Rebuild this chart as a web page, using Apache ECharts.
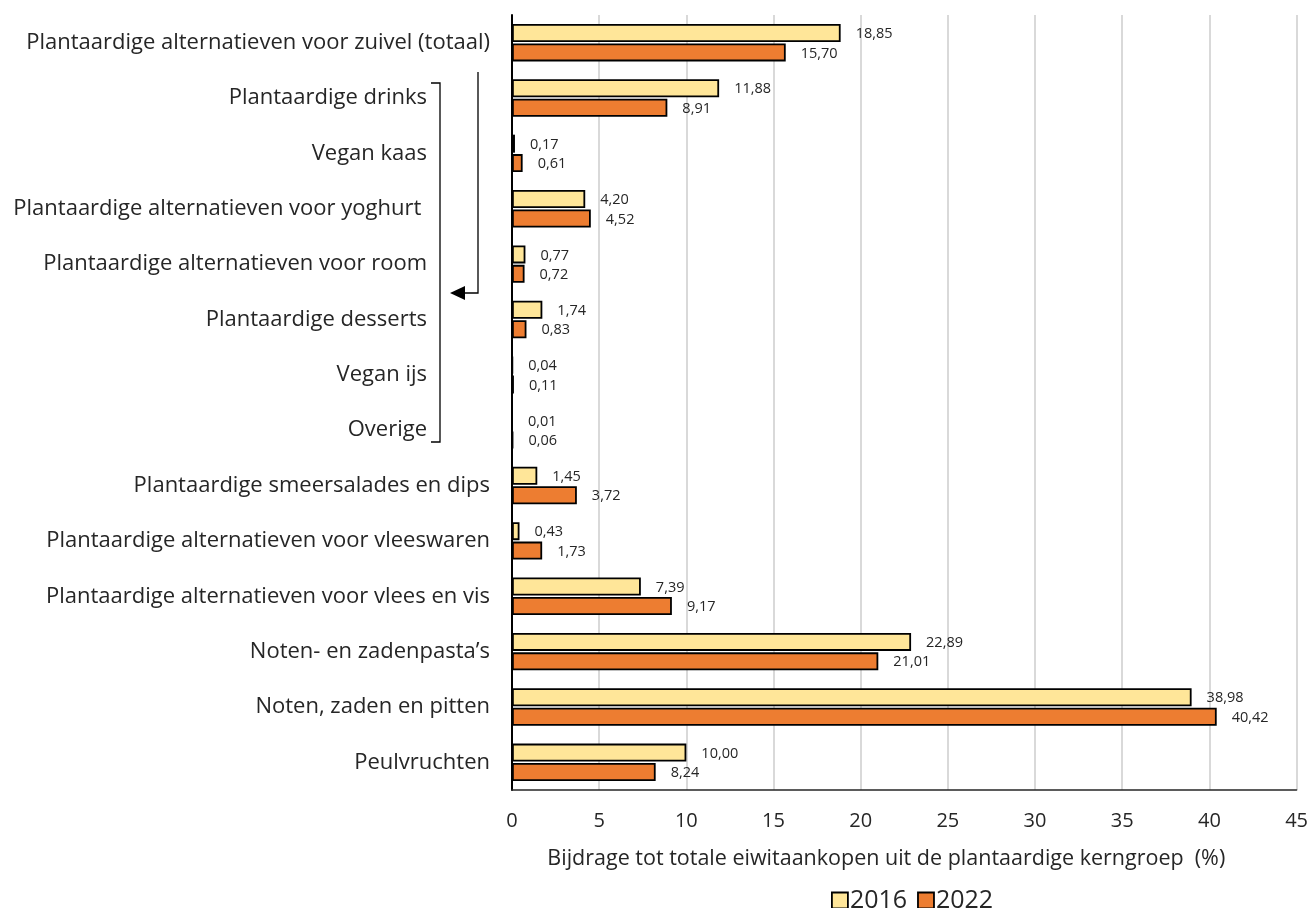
<!DOCTYPE html>
<html>
<head>
<meta charset="utf-8">
<script src="https://cdn.jsdelivr.net/npm/echarts@6/dist/echarts.min.js"></script>
<style>
  html, body { margin: 0; padding: 0; background: #fff; }
  #chart { width: 1311px; height: 908px; }
</style>
</head>
<body>
<div id="chart"></div>
<script>
// Productgroepen (van boven naar onder)
const categories = [
  'Plantaardige alternatieven voor zuivel (totaal)',
  'Plantaardige drinks',
  'Vegan kaas',
  'Plantaardige alternatieven voor yoghurt ',
  'Plantaardige alternatieven voor room',
  'Plantaardige desserts',
  'Vegan ijs',
  'Overige',
  'Plantaardige smeersalades en dips',
  'Plantaardige alternatieven voor vleeswaren',
  'Plantaardige alternatieven voor vlees en vis',
  "Noten- en zadenpasta’s",
  'Noten, zaden en pitten',
  'Peulvruchten'
];

// Subgroepen van zuivelalternatieven (ingesprongen labels)
const subgroups = [1, 2, 3, 4, 5, 6, 7];

const values2016 = [18.85, 11.88, 0.17, 4.20, 0.77, 1.74, 0.04, 0.01, 1.45, 0.43, 7.39, 22.89, 38.98, 10.00];
const values2022 = [15.70, 8.91, 0.61, 4.52, 0.72, 0.83, 0.11, 0.06, 3.72, 1.73, 9.17, 21.01, 40.42, 8.24];

const xTicks = { min: 0, max: 45, interval: 5 };
const seriesNames = ['2016', '2022'];

const FONT = '"Open Sans", "Noto Sans", sans-serif';
const TEXT = '#262626';
const fmt = v => v.toFixed(2).replace('.', ',');

const chart = echarts.init(document.getElementById('chart'));

const labelStyle = {
  show: true,
  position: 'right',
  distance: 15,
  offset: [0, 1],
  fontFamily: FONT,
  fontSize: 14.5,
  color: TEXT,
  formatter: p => fmt(p.value)
};

chart.setOption({
  animation: false,
  grid: { left: 512, right: 13, top: 15, bottom: 118, containLabel: false },
  legend: {
    data: seriesNames,
    left: 826,
    top: 883,
    itemWidth: 16,
    itemHeight: 16,
    itemGap: 10,
    icon: 'rect',
    textStyle: { fontFamily: FONT, fontSize: 25, color: TEXT, padding: [0, 0, 0, -3] },
    itemStyle: { borderColor: '#000', borderWidth: 1.8 }
  },
  xAxis: {
    type: 'value',
    min: xTicks.min,
    max: xTicks.max,
    interval: xTicks.interval,
    name: 'Bijdrage tot totale eiwitaankopen uit de plantaardige kerngroep  (%)',
    nameLocation: 'middle',
    nameGap: 58,
    nameTextStyle: { fontFamily: FONT, fontSize: 21.5, color: TEXT, padding: [0, 36, 0, 0] },
    axisLine: { show: true, lineStyle: { color: '#262626', width: 1.5 } },
    axisTick: { show: false },
    axisLabel: { margin: 21, fontFamily: FONT, fontSize: 20, color: TEXT },
    splitLine: { show: true, lineStyle: { color: '#d9d9d9', width: 2 } }
  },
  yAxis: {
    type: 'category',
    data: categories,
    inverse: true,
    axisLine: { show: true, lineStyle: { color: '#000', width: 2 } },
    axisTick: { show: false },
    axisLabel: {
      margin: 22,
      fontFamily: FONT,
      fontSize: 22,
      color: TEXT,
      formatter: (v, i) => subgroups.includes(i) ? '{sub|' + v + '}' : v,
      rich: {
        sub: { fontFamily: FONT, fontSize: 22, color: TEXT, padding: [0, 63, 0, 0] }
      }
    }
  },
  series: [
    {
      name: seriesNames[0],
      type: 'bar',
      data: values2016,
      barWidth: 18,
      barGap: '8%',
      itemStyle: { color: '#FFE699', borderColor: '#000', borderWidth: 1.8 },
      label: labelStyle
    },
    {
      name: seriesNames[1],
      type: 'bar',
      data: values2022,
      barWidth: 18,
      itemStyle: { color: '#ED7D31', borderColor: '#000', borderWidth: 1.8 },
      label: labelStyle
    }
  ],
  graphic: [
    // haak rond de subgroepen
    {
      type: 'polyline',
      shape: { points: [[431, 83], [440, 83], [440, 442], [431, 442]] },
      style: { stroke: '#000', lineWidth: 1.3, fill: null }
    },
    // pijl van totaal naar subgroepen
    {
      type: 'polyline',
      shape: { points: [[478, 72], [478, 293], [465, 293]] },
      style: { stroke: '#000', lineWidth: 1.3, fill: null }
    },
    {
      type: 'polygon',
      shape: { points: [[465, 286], [465, 300], [450, 293]] },
      style: { fill: '#000' }
    }
  ]
});
</script>
</body>
</html>
